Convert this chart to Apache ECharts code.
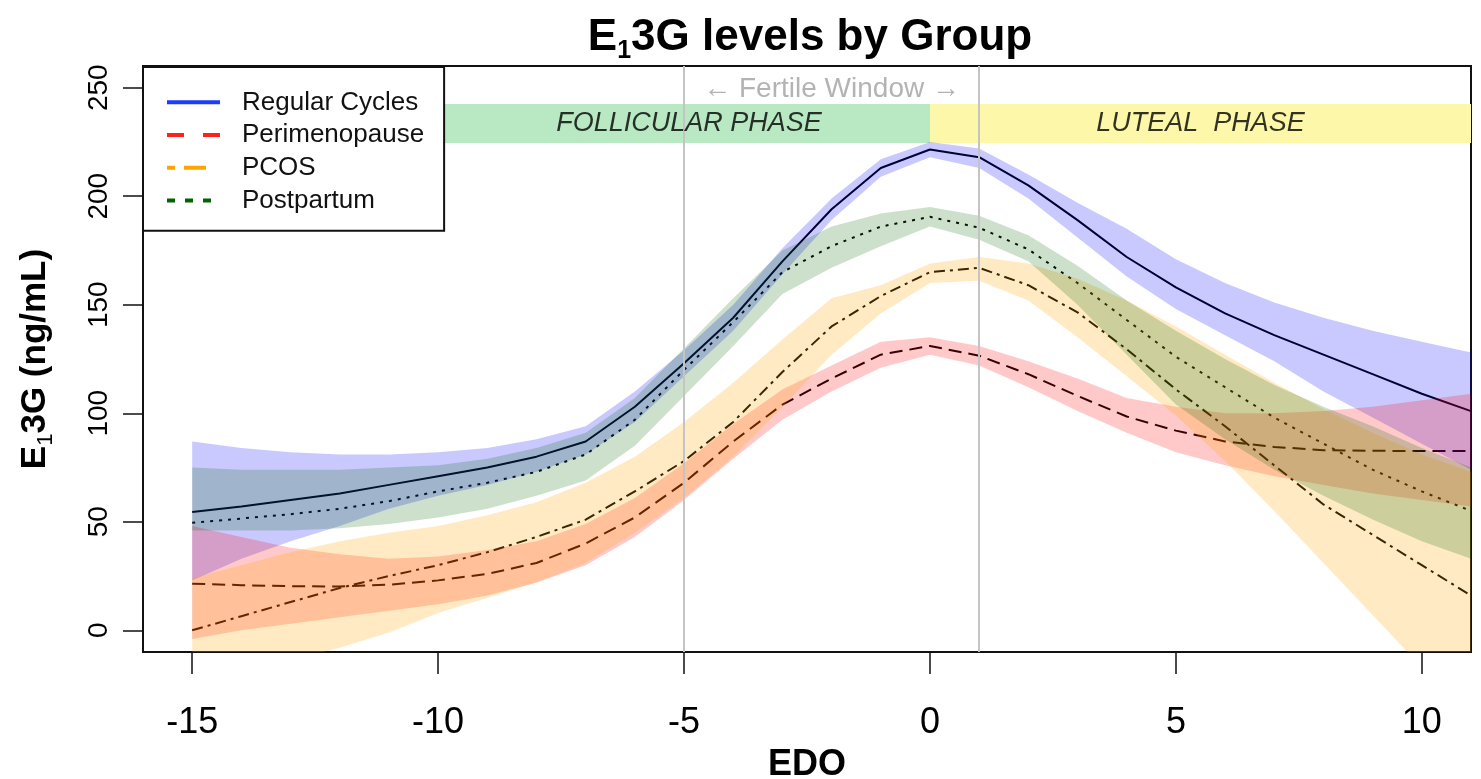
<!DOCTYPE html>
<html>
<head>
<meta charset="utf-8">
<title>E13G levels by Group</title>
<script src="https://cdn.jsdelivr.net/npm/echarts@6/dist/echarts.min.js"></script>
<style>
  html, body { margin: 0; padding: 0; background: #fff; }
  #chart { width: 1481px; height: 779px; }
</style>
</head>
<body>
<div id="chart"></div>
<script>
// days relative to estimated day of ovulation
var days = [-15,-14,-13,-12,-11,-10,-9,-8,-7,-6,-5,-4,-3,-2,-1,0,1,2,3,4,5,6,7,8,9,10,11];
var xTicks = [-15,-10,-5,0,5,10];
var yTicks = [0,50,100,150,200,250];

// Regular Cycles
var regMean = [54.5,57,60,63,67,71,75,80,87,103,123,144,170,194,213,221.5,218,205,189,172,158,146,136,127,118,109,101];
var regLo   = [23,33,41,48,56,62,67,73,81,96,117,138,164,189,209,218,213,199,181,163,148,136,124,110,98,86,74];
var regHi   = [87,84,82,81,81,82,84,88,94,110,129,150,176,199,217,225,222,210,197,185,171,160,151,144,138,133,128];

// Perimenopause
var periMean = [21.5,20.8,20.3,20.2,21,23,26,31,40,52,68,87,104,116,127,131,126.5,118,108,98.5,92,87,84.5,83,82.7,82.6,82.6];
var periLo   = [-4,0,3,6,9,12,16,22,30,43,60,79,97,110,121,127,122,112,101,91,82,76,71,67,63,60,57];
var periHi   = [48,43,38,35,33,34,37,41,49,61,77,95,111,122,133,135,131,124,116,107,103,100,100,101,103,106,109];

// PCOS
var pcosMean = [0,6.5,13,19.5,25,30,36,43,51,64,78,96,119,140,154,165,167,159,146.5,129.5,111,94,76,58,44,30,16];
var pcosLo   = [-27,-20,-14,-8,-1,8,15,22,31,45,61,80,103,127,146,160,161,152,135,117,99,78,55,31,7,-17,-41];
var pcosHi   = [24,30,36,41,45,48,53,59,68,80,96,114,134,153,159,169,172,169,162,152,140,127,114,102,91,81,73];

// Postpartum
var postMean = [49.5,51.5,53.5,56,59.5,64,68,73,81,97,120,142,165,177,186,190.5,185.5,175.5,160,143,126,112,98,86,74,64,55];
var postLo   = [46,46,46,47,49,52,56,62,69,85,108,131,155,167,177,186,180,170,150,127,104,88,74,62,51,41,33];
var postHi   = [75,74,74,74,75,76,79,84,91,107,130,153,175,186,192,195,191,182,168,152,138,125,113,103,94,84,75];

var FONT = '"Liberation Sans", Arial, Helvetica, sans-serif';

function pairs(ys) {
	return days.map(function (d, i) { return [d, ys[i]]; });
}

// confidence band: one polygon (upper edge forward, lower edge back) through the axes
function band(lo, hi, color) {
	return {
		type: 'custom',
		silent: true,
		z: 3,
		data: days.map(function (d, i) { return [d, lo[i], hi[i]]; }),
		encode: { x: 0, y: [1, 2] },
		renderItem: function (params, api) {
			if (params.dataIndexInside !== 0) return null;
			var n = params.dataInsideLength;
			var top = [], bottom = [];
			for (var i = 0; i < n; i++) {
				top.push(api.coord([api.value(0, i), api.value(2, i)]));
				bottom.unshift(api.coord([api.value(0, i), api.value(1, i)]));
			}
			var cs = params.coordSys;
			return {
				type: 'polygon',
				shape: { points: top.concat(bottom) },
				style: { fill: color },
				clipPath: { type: 'rect', shape: { x: cs.x, y: cs.y, width: cs.width, height: cs.height } }
			};
		}
	};
}

function meanLine(name, ys, dash) {
	return {
		type: 'line', name: name, data: pairs(ys), symbol: 'none', z: 2,
		silent: true,
		lineStyle: { color: '#000', width: 2, type: dash }
	};
}

var chart = echarts.init(document.getElementById('chart'));

var series = [
	band(regLo, regHi, 'rgba(0,0,255,0.21)'),
	band(periLo, periHi, 'rgba(255,0,0,0.21)'),
	band(pcosLo, pcosHi, 'rgba(255,165,0,0.23)'),
	band(postLo, postHi, 'rgba(0,100,0,0.2)')
];

var regLine = meanLine('Regular Cycles', regMean, 'solid');
// phase bars and fertile window lines hang off the first line series
regLine.markArea = {
	silent: true,
	data: [
		[{ xAxis: -16, yAxis: 224.5, itemStyle: { color: '#b8e9c3' } }, { xAxis: 0, yAxis: 242.5 }],
		[{ xAxis: 0, yAxis: 224.5, itemStyle: { color: '#fdf8a9' } }, { xAxis: 11, yAxis: 242.5 }]
	]
};
regLine.markLine = {
	silent: true,
	symbol: 'none',
	label: { show: false },
	lineStyle: { color: '#c4c4c4', width: 2, type: 'solid' },
	data: [{ xAxis: -5 }, { xAxis: 1 }]
};
series.push(regLine);
series.push(meanLine('Perimenopause', periMean, [13, 7]));
series.push(meanLine('PCOS', pcosMean, [11, 5, 3, 5]));
series.push(meanLine('Postpartum', postMean, [3, 6]));

// text annotations in data coordinates
series.push({
	type: 'scatter', symbolSize: 0, silent: true, z: 6,
	data: [
		{ value: [-4.9, 233.5], label: { formatter: 'FOLLICULAR PHASE', fontStyle: 'italic', color: '#000' } },
		{ value: [5.5, 233.5], label: { formatter: 'LUTEAL  PHASE', fontStyle: 'italic', color: '#000' } },
		{ value: [-2, 249.5], label: { formatter: '\u2190 Fertile Window \u2192', color: '#a0a0a0', fontSize: 28 } }
	],
	label: { show: true, position: 'inside', fontSize: 27, fontFamily: FONT }
});

var option = {
	backgroundColor: '#fff',
	animation: false,
	title: {
		text: '{n|E}{s|1}{n|3G levels by Group}',
		left: 805,
		textAlign: 'center',
		top: 7,
		textStyle: {
			rich: {
				n: { fontSize: 44, fontWeight: 'bold', fontFamily: FONT, color: '#000', lineHeight: 52 },
				s: { fontSize: 25, fontFamily: FONT, color: '#000', verticalAlign: 'bottom', lineHeight: 26 }
			}
		}
	},
	legend: {
		orient: 'vertical',
		left: 143,
		top: 67,
		padding: [19, 20, 14, 22],
		itemGap: 0,
		itemWidth: 53,
		itemHeight: 14,
		backgroundColor: '#fff',
		borderColor: '#111',
		borderWidth: 2,
		borderRadius: 0,
		textStyle: { fontSize: 26, fontFamily: FONT, color: '#111', lineHeight: 32.7, padding: [0, 0, 0, 17] },
		data: [
			{ name: 'Regular Cycles', itemStyle: { opacity: 0 }, lineStyle: { color: '#1a3cff', width: 4, type: 'solid' } },
			{ name: 'Perimenopause', itemStyle: { opacity: 0 }, lineStyle: { color: '#ff2020', width: 4, type: [17, 19] } },
			{ name: 'PCOS', itemStyle: { opacity: 0 }, lineStyle: { color: '#ffa500', width: 4, type: [8, 9, 22, 14] } },
			{ name: 'Postpartum', itemStyle: { opacity: 0 }, lineStyle: { color: '#006400', width: 4, type: [8, 10] } }
		],
		z: 10
	},
	grid: {
		left: 143, right: 10, top: 66, bottom: 127,
		show: true, borderColor: '#111', borderWidth: 2,
		containLabel: false,
		outerBoundsMode: 'none'
	},
	xAxis: {
		type: 'value',
		min: -16, max: 11,
		name: 'EDO',
		nameLocation: 'middle',
		nameGap: 95,
		nameTextStyle: { fontSize: 36, fontWeight: 'bold', fontFamily: FONT, color: '#000' },
		axisLine: { show: false, onZero: false },
		splitLine: { show: false },
		axisTick: { show: true, length: 22, customValues: xTicks, lineStyle: { color: '#111', width: 1.5 } },
		axisLabel: { customValues: xTicks, fontSize: 36, fontFamily: FONT, color: '#000', margin: 53 }
	},
	yAxis: {
		type: 'value',
		min: -10, max: 260,
		name: '{n|E}{s|1}{n|3G (ng/mL)}',
		nameLocation: 'middle',
		nameGap: 86,
		nameRotate: 90,
		nameTextStyle: {
			rich: {
				n: { fontSize: 35, fontWeight: 'bold', fontFamily: FONT, color: '#000', lineHeight: 44 },
				s: { fontSize: 22, fontFamily: FONT, color: '#000', verticalAlign: 'bottom', lineHeight: 22 }
			}
		},
		axisLine: { show: false, onZero: false },
		splitLine: { show: false },
		axisTick: { show: true, length: 20, customValues: yTicks, lineStyle: { color: '#111', width: 1.5 } },
		axisLabel: { customValues: yTicks, rotate: 90, fontSize: 28, fontFamily: FONT, color: '#000', margin: 30 }
	},
	series: series
};

chart.setOption(option);
</script>
</body>
</html>
